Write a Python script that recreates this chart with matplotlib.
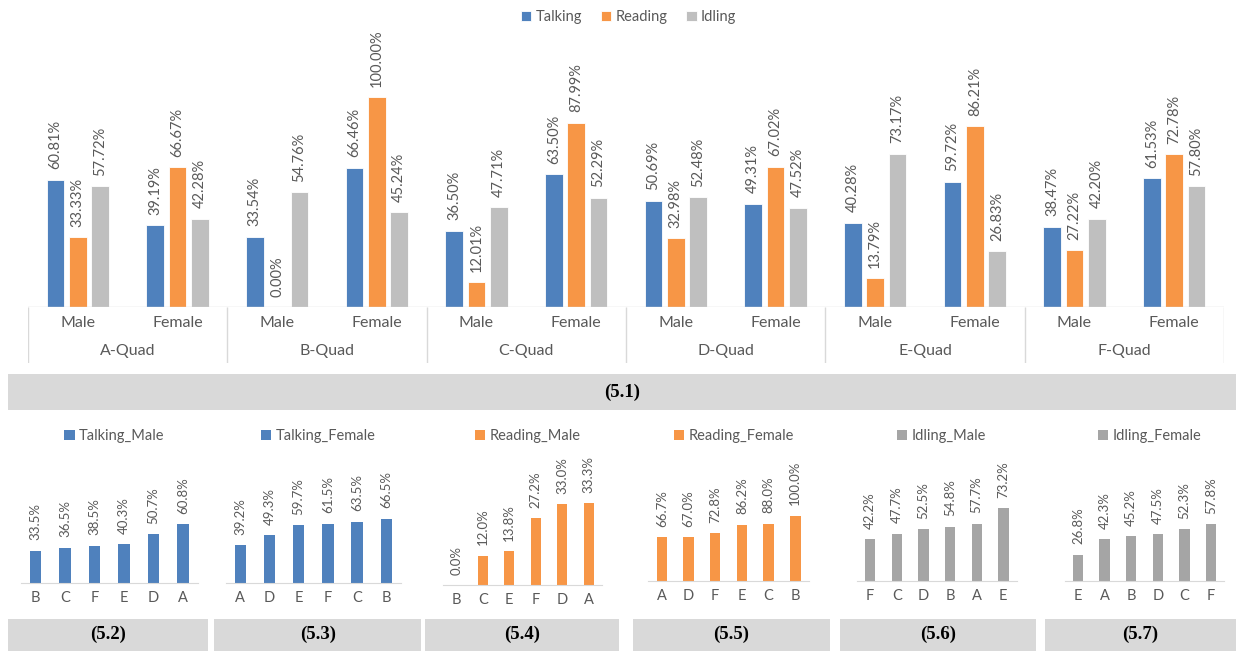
# -*- coding: utf-8 -*-

import numpy as np
import matplotlib
matplotlib.use('Agg')
import matplotlib.pyplot as plt
from matplotlib.patches import Rectangle

plt.rcParams['font.family'] = ['Lato', 'DejaVu Sans']

# ---- data: main chart (5.1) ----
quads = ['A-Quad', 'B-Quad', 'C-Quad', 'D-Quad', 'E-Quad', 'F-Quad']
genders = ['Male', 'Female']
talking = [60.81, 39.19, 33.54, 66.46, 36.50, 63.50, 50.69, 49.31, 40.28, 59.72, 38.47, 61.53]
reading = [33.33, 66.67, 0.00, 100.00, 12.01, 87.99, 32.98, 67.02, 13.79, 86.21, 27.22, 72.78]
idling = [57.72, 42.28, 54.76, 45.24, 47.71, 52.29, 52.48, 47.52, 73.17, 26.83, 42.20, 57.80]

# ---- data: small charts (5.2 - 5.7) ----
talking_male_cats = ['B', 'C', 'F', 'E', 'D', 'A']
talking_male = [33.5, 36.5, 38.5, 40.3, 50.7, 60.8]
talking_female_cats = ['A', 'D', 'E', 'F', 'C', 'B']
talking_female = [39.2, 49.3, 59.7, 61.5, 63.5, 66.5]
reading_male_cats = ['B', 'C', 'E', 'F', 'D', 'A']
reading_male = [0.0, 12.0, 13.8, 27.2, 33.0, 33.3]
reading_female_cats = ['A', 'D', 'F', 'E', 'C', 'B']
reading_female = [66.7, 67.0, 72.8, 86.2, 88.0, 100.0]
idling_male_cats = ['F', 'C', 'D', 'B', 'A', 'E']
idling_male = [42.2, 47.7, 52.5, 54.8, 57.7, 73.2]
idling_female_cats = ['E', 'A', 'B', 'D', 'C', 'F']
idling_female = [26.8, 42.3, 45.2, 47.5, 52.3, 57.8]

BLUE = '#4F81BD'
ORANGE = '#F79646'
GRAY_LIGHT = '#BFBFBF'
GRAY = '#A5A5A5'
TXT = '#595959'
LINE = '#D9D9D9'
BANNER = '#D9D9D9'

W, H = 1238, 651
fig = plt.figure(figsize=(W / 100, H / 100), dpi=100)


def rect(x0, y0, x1, y1):
    # pixel box (top-left origin) -> figure fraction
    return [x0 / W, 1 - y1 / H, (x1 - x0) / W, (y1 - y0) / H]


def banner(x0, y0, x1, y1, text):
    fig.patches.append(Rectangle((x0 / W, 1 - y1 / H), (x1 - x0) / W, (y1 - y0) / H,
                                 transform=fig.transFigure, facecolor=BANNER,
                                 edgecolor='none', zorder=0))
    fig.text((x0 + x1) / 2 / W, 1 - (y0 + y1) / 2 / H, text, ha='center', va='center',
             family='Liberation Serif', weight='bold', fontsize=13.5, color='black')


# ---- main chart ----
ax = fig.add_axes(rect(28, 40, 1224, 307.3))
x = np.arange(len(talking))
bw = 0.177
off = 0.224
series = [(talking, BLUE, 'Talking'), (reading, ORANGE, 'Reading'), (idling, GRAY_LIGHT, 'Idling')]
handles = []
for k, (vals, col, name) in enumerate(series):
    bars = ax.bar(x + (k - 1) * off, vals, bw, color=col, edgecolor='white', linewidth=0.6, label=name)
    handles.append(bars)
    for rct, v in zip(bars, vals):
        ax.annotate('%.2f%%' % v, (rct.get_x() + rct.get_width() / 2, v), xytext=(0, 7.5),
                    textcoords='offset points', rotation=90, ha='center', va='bottom',
                    fontsize=10.5, color=TXT)
ax.set_xlim(-0.5, len(talking) - 0.5)
ax.set_ylim(0, 127.3)
ax.axis('off')
ax.axhline(0, color=LINE, lw=1)

# two-level category table under the main chart
tab = fig.add_axes(rect(28, 307.3, 1224, 362.7))
tab.set_xlim(-0.5, len(talking) - 0.5)
tab.set_ylim(0, 1)
tab.axis('off')
tab.vlines(np.arange(-0.5, len(talking), 2), 0, 1, color=LINE, lw=1)
for i in range(len(talking)):
    tab.text(i, 0.71, genders[i % 2], ha='center', va='center', fontsize=11.5, color=TXT)
for q, name in enumerate(quads):
    tab.text(2 * q + 0.5, 0.21, name, ha='center', va='center', fontsize=11.5, color=TXT)

fig.legend(handles=handles, loc='center', bbox_to_anchor=(628.5 / W, 1 - 17 / H),
           ncol=3, frameon=False, fontsize=10.5, handlelength=0.7, handleheight=0.7,
           handletextpad=0.3, columnspacing=1.3, labelcolor=TXT)

banner(8, 374, 1236, 410, '(5.1)')

# ---- small charts ----
panels = [
    (talking_male_cats, talking_male, BLUE, 'Talking_Male', (21, 197.8, 582.7), 117.4, (8, 207.7), '(5.2)'),
    (talking_female_cats, talking_female, BLUE, 'Talking_Female', (225.6, 400.9, 582.7), 117.4, (214.3, 421), '(5.3)'),
    (reading_male_cats, reading_male, ORANGE, 'Reading_Male', (443, 602, 585), 46.9, (425, 619), '(5.4)'),
    (reading_female_cats, reading_female, ORANGE, 'Reading_Female', (648.4, 808.7, 581), 170, (632.7, 830), '(5.5)'),
    (idling_male_cats, idling_male, GRAY, 'Idling_Male', (856.7, 1016.7, 581), 112, (839.7, 1036.3), '(5.6)'),
    (idling_female_cats, idling_female, GRAY, 'Idling_Female', (1064.7, 1224.3, 581), 112.7, (1044.7, 1236), '(5.7)'),
]

for cats, vals, col, name, (l, r, base), ymax, (b0, b1), tag in panels:
    sa = fig.add_axes(rect(l, 470, r, base))
    pos = np.arange(len(cats))
    bars = sa.bar(pos, vals, 0.39, color=col, label=name)
    for rct, v in zip(bars, vals):
        sa.annotate('%.1f%%' % v, (rct.get_x() + rct.get_width() / 2, v), xytext=(0, 7.5),
                    textcoords='offset points', rotation=90, ha='center', va='bottom',
                    fontsize=9.5, color=TXT)
    sa.set_xlim(-0.5, len(cats) - 0.5)
    sa.set_ylim(0, ymax)
    sa.set_xticks(pos)
    sa.set_xticklabels(cats)
    sa.set_yticks([])
    for s in ['top', 'left', 'right']:
        sa.spines[s].set_visible(False)
    sa.spines['bottom'].set_color(LINE)
    sa.tick_params(axis='x', length=0, pad=6, labelsize=10.5, labelcolor=TXT)
    sa.patch.set_alpha(0)
    sa.legend(loc='center', bbox_to_anchor=(((l + r) / 2 + 5) / W, 1 - 436 / H),
              bbox_transform=fig.transFigure, frameon=False, fontsize=10.5,
              handlelength=0.7, handleheight=0.7, handletextpad=0.3, labelcolor=TXT)
    banner(b0, 618.5, b1, 651, tag)

fig.savefig('out.png', dpi=100, facecolor='white')
